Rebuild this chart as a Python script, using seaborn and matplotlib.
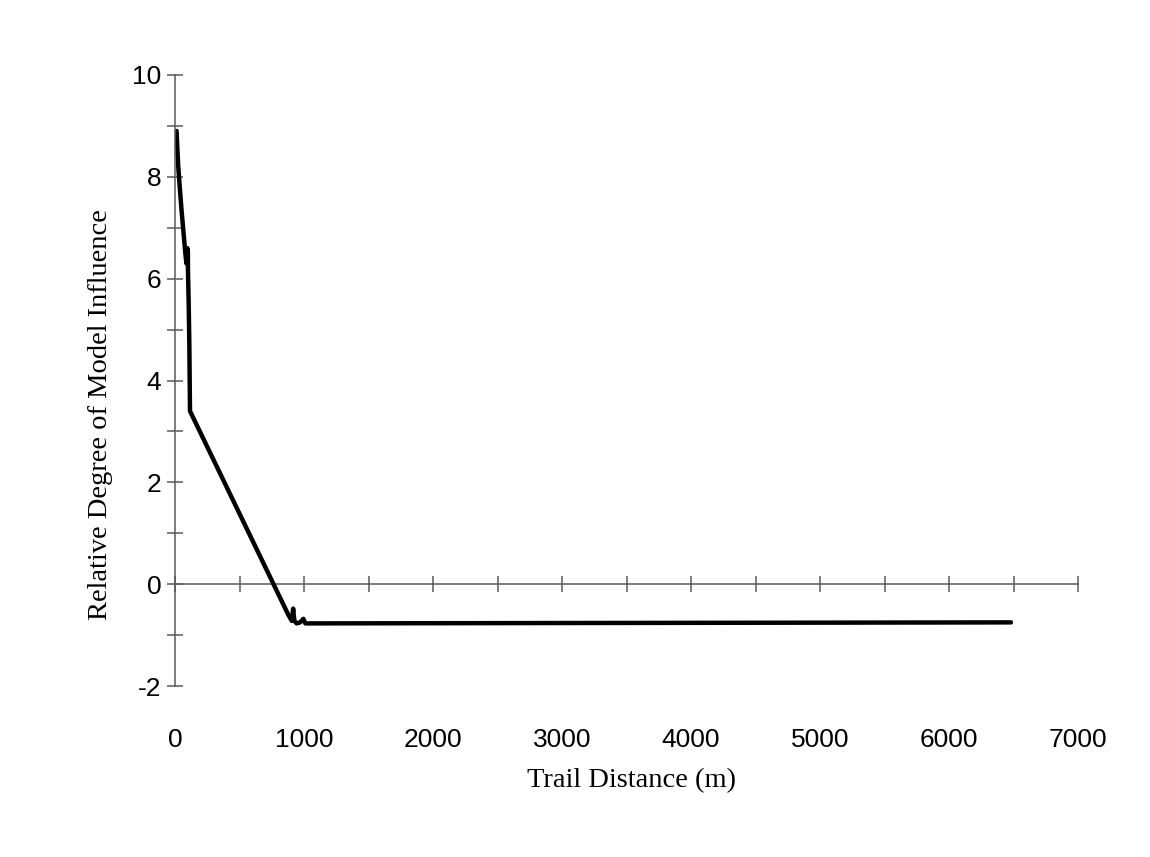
import matplotlib
matplotlib.use('Agg')
import matplotlib.pyplot as plt
import seaborn as sns
from matplotlib.ticker import MultipleLocator

# Data
trail_distance = [12, 18, 25, 38, 52, 66, 80, 88, 96, 100, 100, 106, 111, 116,
                  878, 905, 916, 925, 943, 970, 995, 1010, 6480]
influence = [8.9, 8.55, 8.2, 7.75, 7.3, 6.9, 6.5, 6.3, 6.6, 6.5, 6.2, 5.5, 4.7, 3.4,
             -0.6, -0.72, -0.48, -0.72, -0.77, -0.75, -0.68, -0.77, -0.75]

x_labels = [0, 1000, 2000, 3000, 4000, 5000, 6000, 7000]

sns.set_style('white')
plt.rcParams['font.family'] = ['Liberation Sans', 'DejaVu Sans']
plt.rcParams['axes.unicode_minus'] = False

fig = plt.figure(figsize=(11.5, 8.57), dpi=100)
ax = fig.add_axes([0.1522, 0.1995, 0.7852, 0.713])

sns.lineplot(x=trail_distance, y=influence, ax=ax, color='black', linewidth=3.2,
             estimator=None, sort=False)

axis_grey = '#5a5a5a'
ax.set_xlim(0, 7000)
ax.set_ylim(-2, 10)

# y axis: line at x=0 with crossing ticks
for s in ['top', 'right', 'bottom']:
    ax.spines[s].set_visible(False)
ax.spines['left'].set_color(axis_grey)
ax.spines['left'].set_linewidth(1.1)
ax.yaxis.set_major_locator(MultipleLocator(2))
ax.yaxis.set_minor_locator(MultipleLocator(1))
ax.tick_params(axis='y', which='both', direction='inout', length=12, width=1.1,
               color=axis_grey, labelsize=19, labelcolor='black', pad=4, left=True)

# labels of x at the bottom, no ticks there
ax.set_xticks(x_labels)
ax.tick_params(axis='x', which='both', length=0, labelsize=19, labelcolor='black',
               pad=30)

# the zero line with crossing ticks every 500
zero_axis = ax.secondary_xaxis(1 / 6)
zero_axis.spines['bottom'].set_color(axis_grey)
zero_axis.spines['bottom'].set_linewidth(1.1)
zero_axis.set_xticks(range(0, 7001, 500))
zero_axis.tick_params(direction='inout', length=12, width=1.1, color=axis_grey,
                      labelbottom=False, bottom=True)

ax.set_xlabel('Trail Distance (m)', family=['Liberation Serif', 'DejaVu Serif'],
              fontsize=20.5, color='black')
ax.set_ylabel('Relative Degree of Model Influence',
              family=['Liberation Serif', 'DejaVu Serif'], fontsize=20.5,
              color='black')
ax.xaxis.set_label_coords(0.5057, -0.135)
ax.yaxis.set_label_coords(-0.069, 0.444)

fig.savefig('out.png', dpi=100)
